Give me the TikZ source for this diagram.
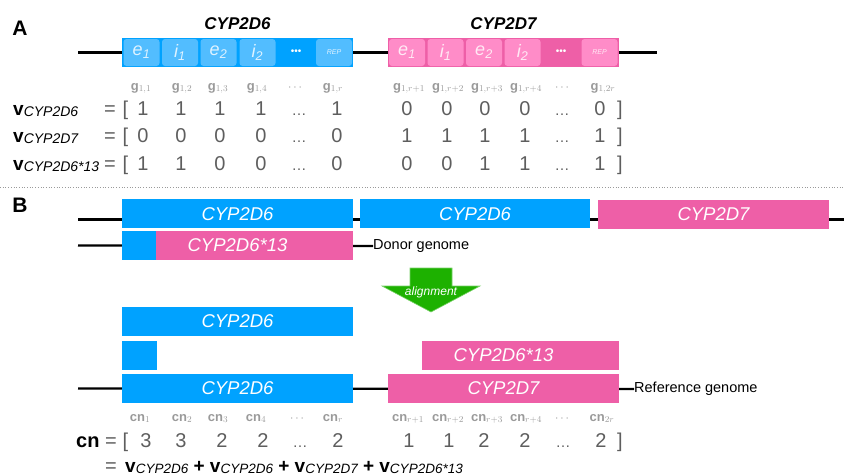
\documentclass[tikz,border=0pt]{standalone}
\usepackage{fontspec}
\setmainfont{Liberation Sans}
\newcommand\fsz[1]{\fontsize{#1}{#1}\selectfont}
\newcommand\vsub[1]{{\fsz{19}\bfseries v}\raisebox{-1pt}{\fsz{14}\itshape #1}}
\newcommand\vsubb[1]{{\fsz{19}\bfseries v}\raisebox{-1pt}{\fsz{13.5}\itshape #1}}
\definecolor{cblue}{HTML}{00A2FF}
\definecolor{lblue}{HTML}{52BDFF}
\definecolor{cpink}{HTML}{EE5FA7}
\definecolor{lpink}{HTML}{FF8CC8}
\definecolor{agreen}{HTML}{1DB100}
\definecolor{numgray}{HTML}{5E5E5E}
\definecolor{lgray}{HTML}{9A9A9A}
\begin{document}
\begin{tikzpicture}[x=1pt,y=-1pt,
  gline/.style={line width=2.2pt,black},
  bar/.style={inner sep=0pt,minimum height=29pt,text=white,font={\fsz{18.5}\itshape}},
  bluebar/.style={bar,fill=cblue},
  pinkbar/.style={bar,fill=cpink},
  subb/.style={inner sep=0pt,minimum width=36pt,minimum height=27pt,rounded corners=3pt,font={\fsz{18}\itshape}},
  subblue/.style={subb,fill=lblue,text=white!82!lblue},
  subpink/.style={subb,fill=lpink,text=white!82!lpink},
  dots/.style={inner sep=0pt,text=white,font={\fsz{10}}},
  title/.style={inner sep=0pt,font={\fsz{17}\bfseries\itshape}},
  panel/.style={inner sep=0pt,font={\fsz{21}\bfseries}},
  lab/.style={anchor=base west,inner sep=0pt},
  num/.style={anchor=base,inner sep=0pt,text=numgray,font={\fsz{20}}},
  glab/.style={anchor=base,inner sep=0pt,text=lgray,font={\fsz{13}}},
  side/.style={anchor=west,inner sep=0pt,font={\fsz{14.5}}}
]
\useasboundingbox (0,0) rectangle (844,475);

% ---------- Panel A ----------
\node[panel] (pA) at (20,28) {A};
\coordinate (aL) at (78,52.5);
\coordinate (aR) at (657,52.5);
\draw[gline] (aL) -- (aR);
\node[bluebar,minimum width=231pt] (g6) at (237.5,52.5) {};
\node[pinkbar,minimum width=231pt] (g7) at (503.5,52.5) {};
\node[title] (t6) at (237.5,23.5) {CYP2D6};
\node[title] (t7) at (503.5,23.5) {CYP2D7};
\node[subblue] (be1) at (141.5,52.5) {e\textsubscript{1}};
\node[subblue] (bi1) at (180,52.5) {i\textsubscript{1}};
\node[subblue] (be2) at (218.5,52.5) {e\textsubscript{2}};
\node[subblue] (bi2) at (257.5,52.5) {i\textsubscript{2}};
\node[dots] (bdots) at (296,52.5) {•••};
\node[subblue,font={\fsz{7}\itshape}] (brep) at (334,52.5) {REP};
\node[subpink] (pe1) at (407,52.5) {e\textsubscript{1}};
\node[subpink] (pi1) at (445.5,52.5) {i\textsubscript{1}};
\node[subpink] (pe2) at (484,52.5) {e\textsubscript{2}};
\node[subpink] (pi2) at (522.5,52.5) {i\textsubscript{2}};
\node[dots] (pdots) at (561,52.5) {•••};
\node[subpink,font={\fsz{7}\itshape}] (prep) at (599.5,52.5) {REP};

% g labels
\foreach \xx/\tt [count=\i] in {141/{$\mathbf{g}_{1,1}$},182/{$\mathbf{g}_{1,2}$},218/{$\mathbf{g}_{1,3}$},257/{$\mathbf{g}_{1,4}$},295/{$\cdots$},333/{$\mathbf{g}_{1,r}$},409/{$\mathbf{g}_{1,r+1}$},448/{$\mathbf{g}_{1,r+2}$},487/{$\mathbf{g}_{1,r+3}$},526/{$\mathbf{g}_{1,r+4}$},562/{$\cdots$},603/{$\mathbf{g}_{1,2r}$}}
  \node[glab] (g-\i) at (\xx,90) {\tt};

% vector rows
\node[lab] (v1) at (13,115) {\vsub{CYP2D6}};
\node[lab] (v2) at (13,142.5) {\vsub{CYP2D7}};
\node[lab] (v3) at (13,170) {\vsub{CYP2D6*13}};
\foreach \yy/\r in {115/1,142.5/2,170/3}{
  \node[num] (eq\r) at (110,\yy) {=};
  \node[num] (lb\r) at (125.5,\yy) {[};
  \node[num] (rb\r) at (620,\yy) {]};
}
\foreach \xx/\a/\b/\c [count=\i] in {
  143/1/0/1, 181/1/0/1, 220/1/0/0, 261/1/0/0, 299/{\fsz{15}…}/{\fsz{15}…}/{\fsz{15}…}, 337/1/0/0,
  407/0/1/0, 447/0/1/0, 485/0/1/1, 525/0/1/1, 562/{\fsz{15}…}/{\fsz{15}…}/{\fsz{15}…}, 600/0/1/1}{
  \node[num] (r1-\i) at (\xx,115) {\a};
  \node[num] (r2-\i) at (\xx,142.5) {\b};
  \node[num] (r3-\i) at (\xx,170) {\c};
}

% separator
\coordinate (sepL) at (0,187);
\coordinate (sepR) at (844,187);
\draw[lgray,dotted,line width=0.7pt] (sepL) -- (sepR);

% ---------- Panel B ----------
\node[panel] (pB) at (20,205) {B};
\coordinate (b1L) at (78,219.5);
\coordinate (b1R) at (844,219.5);
\draw[gline] (b1L) -- (b1R);
\node[bluebar,minimum width=231pt] (d1) at (237.5,213.7) {CYP2D6};
\node[bluebar,minimum width=230pt] (d2) at (475,213.7) {CYP2D6};
\node[pinkbar,minimum width=231pt] (d3) at (713.5,214.3) {CYP2D7};

\coordinate (b2L) at (78,245.5);
\node[side] (donor) at (373,246) {Donor genome};
\draw[gline] (b2L) -- (donor.west);
\node[bluebar,minimum width=34pt] (s1) at (139,245.5) {};
\node[pinkbar,minimum width=197pt] (s2) at (254.5,245.5) {};
\node[inner sep=0pt,text=white,font={\fsz{18.5}\itshape}] (s13) at (237.5,245.5) {CYP2D6*13};

% alignment arrow
\filldraw[fill=agreen,draw=agreen!60!white,line width=0.6pt]
  (410,268) -- (452,268) -- (452,286) -- (480,286) -- (431,312) -- (382,286) -- (410,286) -- cycle;
\node[inner sep=0pt,text=white,font={\fsz{12}\itshape}] (align) at (431,292) {alignment};

% aligned reads
\node[bluebar,minimum width=231pt] (a1) at (237.5,321.5) {CYP2D6};
\node[bluebar,minimum width=35pt] (a2) at (139.5,355.5) {};
\node[pinkbar,minimum width=197pt] (a3) at (520.5,355.5) {};
\node[inner sep=0pt,text=white,font={\fsz{18.5}\itshape}] (a13) at (503.5,355.5) {CYP2D6*13};

% reference
\coordinate (rL) at (78,388.5);
\node[side] (ref) at (634,389) {Reference genome};
\draw[gline] (rL) -- (ref.west);
\node[bluebar,minimum width=231pt] (r6) at (237.5,388.5) {CYP2D6};
\node[pinkbar,minimum width=231pt] (r7) at (503.5,388.5) {CYP2D7};

% cn labels
\foreach \xx/\tt [count=\i] in {140/{$\mathbf{cn}_{1}$},182/{$\mathbf{cn}_{2}$},218/{$\mathbf{cn}_{3}$},256/{$\mathbf{cn}_{4}$},297/{$\cdots$},333/{$\mathbf{cn}_{r}$},408/{$\mathbf{cn}_{r+1}$},448/{$\mathbf{cn}_{r+2}$},487/{$\mathbf{cn}_{r+3}$},526/{$\mathbf{cn}_{r+4}$},562/{$\cdots$},602/{$\mathbf{cn}_{2r}$}}
  \node[glab] (c-\i) at (\xx,421) {\tt};

\node[lab,font={\fsz{20}\bfseries}] (cn) at (76,447.5) {cn};
\node[num] (eqc) at (111,447.5) {=};
\node[num] (lbc) at (125.5,447.5) {[};
\node[num] (rbc) at (620,447.5) {]};
\foreach \xx/\a [count=\i] in {
  146/3, 181/3, 222/2, 263/2, 300/{\fsz{15}…}, 338/2,
  409/1, 449/1, 484/2, 525/2, 563/{\fsz{15}…}, 601/2}
  \node[num] (cnv-\i) at (\xx,447.5) {\a};

\node[num] (eqf) at (111,472) {=};
\node[lab] (form) at (125,472) {\vsubb{CYP2D6}{\fsz{19}\bfseries{} + }\vsubb{CYP2D6}{\fsz{19}\bfseries{} + }\vsubb{CYP2D7}{\fsz{19}\bfseries{} + }\vsubb{CYP2D6*13}};
\end{tikzpicture}
\end{document}
